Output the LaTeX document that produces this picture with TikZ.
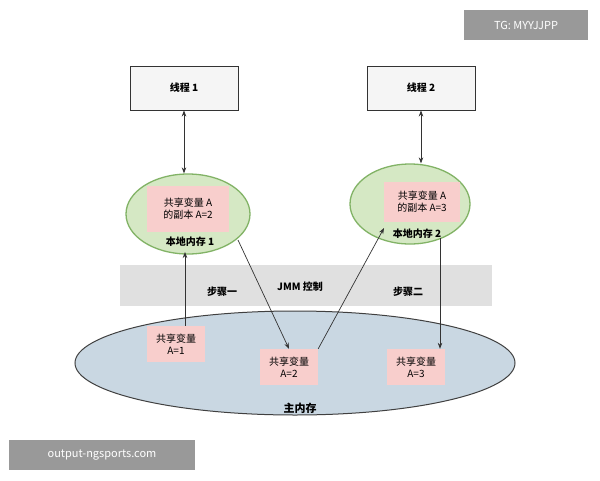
\documentclass[tikz,border=0pt]{standalone}
\usepackage{fontspec}
\setmainfont{Noto Sans CJK SC}
\usetikzlibrary{arrows.meta,shapes.geometric}
\definecolor{gfill}{HTML}{D5E8C4}
\definecolor{gdraw}{HTML}{82B366}
\definecolor{pk}{HTML}{F8CECC}
\definecolor{bl}{HTML}{C9D7E2}
\tikzset{
  thr/.style={draw=black!80,line width=0.9pt,fill=black!4,minimum width=108pt,minimum height=44pt,font=\bfseries\fontsize{10}{12}\selectfont},
  loc/.style={draw=gdraw,line width=1.3pt,fill=gfill,ellipse},
  pink/.style={fill=pk,align=center,font=\fontsize{10}{12}\selectfont,inner sep=3pt},
  lbl/.style={font=\bfseries\fontsize{10}{12}\selectfont},
  arr/.style={-{Stealth[length=6pt]},line width=0.7pt,black!80},
  darr/.style={{Stealth[length=6pt]}-{Stealth[length=6pt]},line width=0.7pt,black!80},
  wm/.style={fill=black!40,text=white,font=\fontsize{11}{13}\selectfont,inner sep=0pt}
}
\begin{document}
\begin{tikzpicture}[x=1pt,y=-1pt]
\useasboundingbox (0,0) rectangle (600,480);
\fill[white] (0,0) rectangle (600,480);
\node[wm,minimum width=124pt,minimum height=30pt] (tg) at (526,25) {TG: MYYJJPP};
\node[thr] (t1) at (184,88) {线程 1};
\node[thr] (t2) at (421,88) {线程 2};
\fill[black!12] (120,265) rectangle (492,306);
\node[lbl] (s1) at (222,292) {步骤一};
\node[lbl] (jmm) at (300,287) {JMM 控制};
\node[lbl] (s2) at (408,292) {步骤二};
\node[ellipse,draw=black!75,line width=1pt,fill=bl,minimum width=440pt,minimum height=104pt] (mm) at (295,363) {};
\node[lbl,font=\bfseries\fontsize{11}{13}\selectfont] (mml) at (300,408) {主内存};
\node[loc,minimum width=124pt,minimum height=80pt] (e1) at (188,214) {};
\node[loc,minimum width=120pt,minimum height=80pt] (e2) at (410,204) {};
\node[pink,minimum width=82pt,minimum height=46pt] (p1) at (188,209) {共享变量 A\\的副本 A=2};
\node[pink,minimum width=76pt,minimum height=40pt] (p2) at (422,202) {共享变量 A\\的副本 A=3};
\node[lbl] (l1) at (190,242) {本地内存 1};
\node[lbl] (l2) at (417,234) {本地内存 2};
\node[pink,minimum width=58pt,minimum height=36pt] (m1) at (176,344) {共享变量\\A=1};
\node[pink,minimum width=58pt,minimum height=36pt] (m2) at (289,367) {共享变量\\A=2};
\node[pink,minimum width=58pt,minimum height=36pt] (m3) at (416,367) {共享变量\\A=3};
\draw[darr] (t1.south) -- (t1.south |- e1.north);
\draw[darr] (t2.south) -- (t2.south |- e2.north);
\draw[arr] (m1.north -| 185,0) -- (185,252);
\draw[arr] (238,240) -- (m2.north);
\draw[arr] (m2.north east) -- (384,228);
\draw[arr] (440,238) -- (m3.north -| 440,0);
\node[wm,minimum width=186pt,minimum height=30pt] (os) at (102,455) {output-ngsports.com};
\end{tikzpicture}
\end{document}
